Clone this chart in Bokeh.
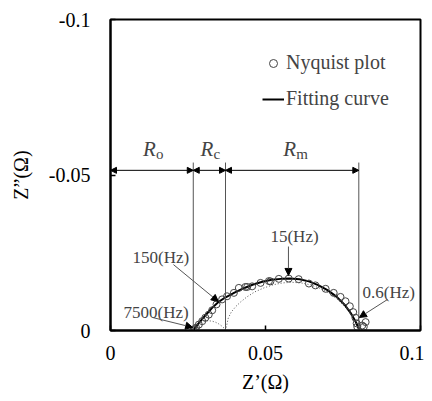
from bokeh.plotting import figure
from bokeh.models import (Range1d, FixedTicker, Arrow, NormalHead, Legend, LegendItem, Label)
from bokeh.embed import file_html
from bokeh.resources import INLINE

SERIF = "Liberation Serif"

# --- data -------------------------------------------------------------
# Measured Nyquist points (Z', Z'')
nyq_re = [0.0268, 0.0272, 0.0276, 0.0285, 0.0296, 0.0306, 0.0317, 0.0328, 0.0342, 0.0360,
          0.0376, 0.0398, 0.0414, 0.0435, 0.0441, 0.0457, 0.0484, 0.0511, 0.0516, 0.0543,
          0.0575, 0.0607, 0.0640, 0.0661, 0.0694, 0.0720, 0.0742, 0.0758, 0.0772, 0.0783,
          0.0790, 0.0794, 0.0796, 0.0812, 0.0817, 0.0823]
nyq_im = [-0.0002, -0.0005, -0.0009, -0.0019, -0.0030, -0.0041, -0.0051, -0.0065, -0.0084, -0.0100,
          -0.0110, -0.0121, -0.0137, -0.0140, -0.0140, -0.0142, -0.0153, -0.0159, -0.0158, -0.0166,
          -0.0167, -0.0165, -0.0151, -0.0145, -0.0134, -0.0121, -0.0108, -0.0094, -0.0078, -0.0059,
          -0.0041, -0.0023, -0.0012, -0.0016, -0.0012, -0.0027]

# Fitting curve
fit_re = [0.0267, 0.0275, 0.0290, 0.0310, 0.0330, 0.0350, 0.0370, 0.0400, 0.0430, 0.0460,
          0.0490, 0.0520, 0.0550, 0.0580, 0.0610, 0.0640, 0.0670, 0.0700, 0.0730, 0.0755,
          0.0775, 0.0790, 0.0800, 0.0803]
fit_im = [0.0, -0.0012, -0.0030, -0.0053, -0.0075, -0.0093, -0.0106, -0.0122, -0.0136, -0.0148,
          -0.0157, -0.0163, -0.0166, -0.0167, -0.0165, -0.0158, -0.0146, -0.0130, -0.0108, -0.0083,
          -0.0056, -0.0030, -0.0008, 0.0]

# Component arcs (dotted)
arc1_re = [0.0267, 0.0272, 0.0280, 0.0290, 0.0300, 0.0310, 0.0319, 0.0328, 0.0338, 0.0348,
           0.0358, 0.0366, 0.0371]
arc1_im = [0.0, -0.0013, -0.0021, -0.0027, -0.0030, -0.0031, -0.0031, -0.0030, -0.0027, -0.0022,
           -0.0015, -0.0008, 0.0]
arc2_re = [0.0371, 0.0380, 0.0390, 0.0405, 0.0420, 0.0440, 0.0465, 0.0495, 0.0525, 0.0555,
           0.0585, 0.0615, 0.0645, 0.0675, 0.0705, 0.0730, 0.0755, 0.0775, 0.0790, 0.0801]
arc2_im = [0.0, -0.0040, -0.0060, -0.0078, -0.0092, -0.0108, -0.0124, -0.0137, -0.0147, -0.0153,
           -0.0155, -0.0153, -0.0147, -0.0136, -0.0120, -0.0102, -0.0078, -0.0053, -0.0028, 0.0]

# Resistance boundaries: 0, Ro end, Rc end, Rm end
r_bounds = [0.0, 0.0267, 0.0371, 0.0801]
r_names = ["o", "c", "m"]

x_ticks = [0, 0.05, 0.1]
x_tick_labels = ["0", "0.05", "0.1"]
y_ticks = [0, -0.05, -0.1]
y_tick_labels = ["0", "-0.05", "-0.1"]

# --- figure -----------------------------------------------------------
p = figure(frame_width=310, frame_height=311, output_backend="svg", toolbar_location=None,
           x_range=Range1d(0, 0.1), y_range=Range1d(0, -0.1),
           min_border_left=110, min_border_right=4, min_border_top=19, min_border_bottom=69)
p.background_fill_color = "white"
p.border_fill_color = "white"
p.outline_line_color = "black"
p.outline_line_width = 2
p.grid.visible = False

for ax in (p.xaxis[0], p.yaxis[0]):
    ax.axis_line_width = 2
    ax.axis_line_color = "black"
    ax.major_tick_in = 5
    ax.major_tick_out = 0
    ax.major_tick_line_color = "black"
    ax.major_tick_line_width = 1.5
    ax.minor_tick_line_color = None
    ax.major_label_text_font = SERIF
    ax.major_label_text_font_size = "20px"
    ax.major_label_text_color = "black"
    ax.axis_label_text_font = SERIF
    ax.axis_label_text_font_size = "20px"
    ax.axis_label_text_font_style = "normal"
    ax.axis_label_text_color = "black"

p.xaxis.ticker = FixedTicker(ticks=x_ticks)
p.xaxis.major_label_overrides = {t: l for t, l in zip(x_ticks, x_tick_labels)}
p.yaxis.ticker = FixedTicker(ticks=y_ticks)
p.yaxis.major_label_overrides = {t: l for t, l in zip(y_ticks, y_tick_labels)}
p.xaxis.axis_label = "Z\u2019(\u03a9)"
p.yaxis.axis_label = "Z\u201d(\u03a9)"
p.xaxis.major_label_standoff = 15
p.xaxis.axis_label_standoff = 8
p.yaxis.major_label_standoff = 20
p.yaxis.axis_label_standoff = 14

# dotted component arcs
p.line(arc1_re, arc1_im, line_color="#555555", line_width=1, line_dash="1 2")
p.line(arc2_re, arc2_im, line_color="#555555", line_width=1, line_dash="1 2")

# fitting curve
fit_r = p.line(fit_re, fit_im, line_color="black", line_width=2)
# data circles
nyq_r = p.scatter(nyq_re, nyq_im, marker="circle", size=7, fill_color="white",
                  fill_alpha=0.0, line_color="#444444", line_width=1)

# vertical boundary lines
for xb in r_bounds[1:]:
    p.segment(x0=[xb], y0=[-0.054], x1=[xb], y1=[0.0], line_color="#555555", line_width=1)

# dimension arrows
dim_y = -0.0515
for i in range(3):
    p.add_layout(Arrow(x_start=r_bounds[i], y_start=dim_y, x_end=r_bounds[i + 1], y_end=dim_y,
                       start=NormalHead(size=6, fill_color="black", line_color="black"),
                       end=NormalHead(size=6, fill_color="black", line_color="black"),
                       line_color="black", line_width=1))
    xm = (r_bounds[i] + r_bounds[i + 1]) / 2
    p.add_layout(Label(x=xm, y=-0.0585, text="R", text_font=SERIF, text_font_style="italic",
                       text_font_size="21px", text_align="right", text_baseline="alphabetic",
                       x_offset=4))
    p.add_layout(Label(x=xm, y=-0.0585, text=r_names[i], text_font=SERIF,
                       text_font_size="15px", text_align="left", text_baseline="alphabetic",
                       x_offset=4, y_offset=-5))

# frequency annotations
freq_labels = ["150(Hz)", "7500(Hz)", "15(Hz)", "0.6(Hz)"]
freq_text_pos = [(0.0071, -0.0235), (0.0042, -0.0058), (0.0516, -0.0302), (0.0813, -0.0122)]
freq_arrows = [((0.0203, -0.0212), (0.0348, -0.0093)),
               ((0.0135, -0.0042), (0.0265, -0.0010)),
               ((0.0574, -0.0270), (0.0574, -0.0177)),
               ((0.0894, -0.0100), (0.0803, -0.0042))]
for lab, (tx, ty), ((ax0, ay0), (ax1, ay1)) in zip(freq_labels, freq_text_pos, freq_arrows):
    p.add_layout(Label(x=tx, y=ty, text=lab, text_font=SERIF, text_font_size="17px",
                       text_align="left", text_baseline="middle"))
    p.add_layout(Arrow(x_start=ax0, y_start=ay0, x_end=ax1, y_end=ay1,
                       end=NormalHead(size=7, fill_color="black", line_color="black"),
                       line_color="#555555", line_width=1))

# legend
legend = Legend(items=[LegendItem(label="Nyquist plot", renderers=[nyq_r]),
                       LegendItem(label="Fitting curve", renderers=[fit_r])],
                border_line_color=None, background_fill_alpha=0,
                label_text_font=SERIF, label_text_font_size="20px", glyph_width=22,
                glyph_height=20, label_standoff=2, spacing=13, padding=0, margin=0)
p.add_layout(legend)
legend.location = (152, 220)

open("out.html", "w").write(file_html(p, INLINE))
